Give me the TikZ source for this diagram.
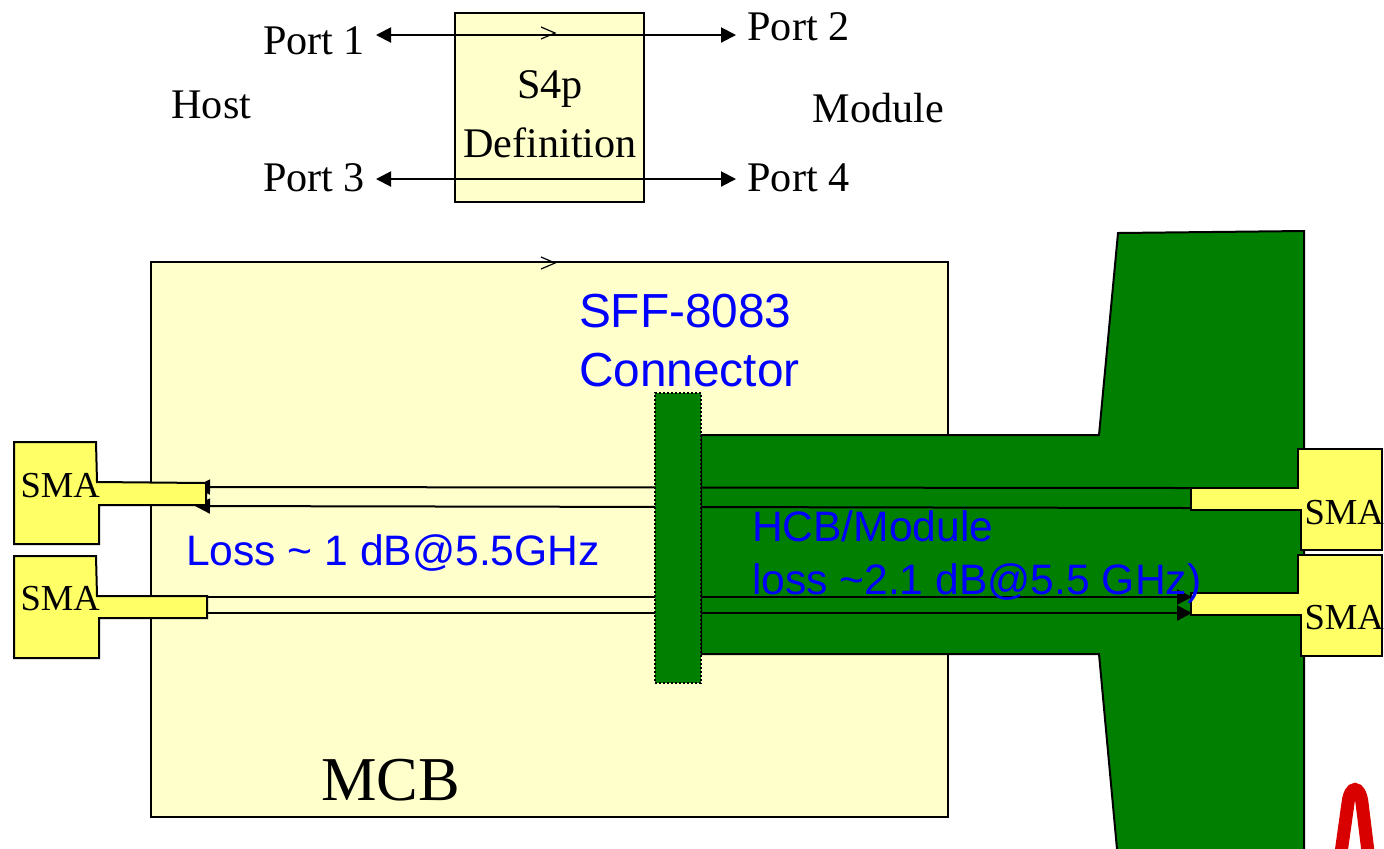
\documentclass[tikz,border=0pt]{standalone}
\usepackage{fontspec}
\setmainfont{Liberation Serif}
\setsansfont{Liberation Sans}
\usetikzlibrary{arrows.meta, positioning}
\definecolor{boardgreen}{HTML}{007F00}
\definecolor{palebox}{HTML}{FFFFCC}
\definecolor{smayellow}{HTML}{FFFF66}
\definecolor{logored}{HTML}{D90000}

\begin{document}
\begin{tikzpicture}[x=0.5pt, y=-0.5pt, line width=1pt, line join=miter,
  pale/.style={draw, fill=palebox, inner sep=0pt},
  board/.style={draw, fill=boardgreen},
  sma/.style={draw, fill=smayellow},
  portlbl/.style={anchor=base west, inner sep=0pt, font=\fontsize{21.1}{24}\selectfont},
  smalbl/.style={anchor=base west, inner sep=0pt, font=\fontsize{18.3}{22}\selectfont},
  bluelbl/.style={anchor=base west, inner sep=0pt, align=left, text=blue, font=\sffamily\fontsize{21.3}{26.5}\selectfont},
  biarrow/.style={{Triangle[length=7.5pt, width=7.5pt]}-{Triangle[length=7.5pt, width=7.5pt]}},
  arrow/.style={-{Triangle[length=7.5pt, width=7.5pt]}}]

  \useasboundingbox (0,0) rectangle (1384,848);
  \clip (0,0) rectangle (1384,848);

  % s4p sketch
  \node[pale, minimum width=94.5pt, minimum height=94.5pt] (s4p) at (549.5,107.5) {};
  \node[portlbl] (port1) at (262,54) {Port 1};
  \node[portlbl] (port2) at (746.5,40) {Port 2};
  \node[portlbl] (port3) at (262,191) {Port 3};
  \node[portlbl] (port4) at (746.5,191) {Port 4};
  \node[portlbl] (host) at (170.5,118) {Host};
  \node[portlbl] (module) at (811.5,122) {Module};
  \node[anchor=base, inner sep=0pt, font=\fontsize{21.1}{24}\selectfont] (s4plbl) at (550,98) {S4p};
  \node[anchor=base, inner sep=0pt, font=\fontsize{21.1}{24}\selectfont] (deflbl) at (550,157) {Definition};
  \coordinate (t1) at (376,35);
  \coordinate (t2) at (736,35);
  \coordinate (t3) at (376,179);
  \coordinate (t4) at (736,179);
  \draw[biarrow] (t1) -- (t2);
  \draw[biarrow] (t3) -- (t4);
  \draw[line width=0.6pt] (541,27) -- (555,33) -- (541,39);

  % boards
  \node[pale, minimum width=398.5pt, minimum height=277.5pt] (mcb) at (549.5,539.5) {};
  \draw[line width=0.6pt] (541,257) -- (555,263) -- (541,269);
  \draw[board] (1118,233) -- (1304,231) -- (1304,860) -- (1118,860) -- (1099,654)
    -- (701,654) -- (701,435) -- (1099,435) -- cycle;

  % traces
  \coordinate (a1) at (195,487);
  \coordinate (a2) at (1191,488);
  \coordinate (b1) at (195,506);
  \coordinate (b2) at (1191,508);
  \coordinate (c1) at (207,597);
  \coordinate (c2) at (1192,597);
  \coordinate (d1) at (207,613);
  \coordinate (d2) at (1192,613);
  \draw[{Triangle[length=7.5pt, width=7.5pt]}-] (a1) -- (a2);
  \draw[{Triangle[length=7.5pt, width=7.5pt]}-] (b1) -- (b2);
  \draw[arrow] (c1) -- (c2);
  \draw[arrow] (d1) -- (d2);

  % sma launches
  \draw[sma] (14,442) -- (96,442) -- (97,482) -- (206,483) -- (206,505) -- (99,505) -- (99,544) -- (14,544) -- cycle;
  \draw[sma] (14,556) -- (96,556) -- (97,596) -- (207,596) -- (207,618) -- (99,618) -- (99,658) -- (14,658) -- cycle;
  \draw[sma] (1298,449) -- (1382,449) -- (1382,550) -- (1301,550) -- (1301,510) -- (1191,510) -- (1191,488) -- (1298,488) -- cycle;
  \draw[sma] (1298,555) -- (1382,555) -- (1382,656) -- (1301,656) -- (1301,615) -- (1191,615) -- (1191,593) -- (1298,593) -- cycle;
  \node[smalbl] (sma1) at (19.5,497) {SMA};
  \node[smalbl] (sma2) at (19.5,610) {SMA};
  \node[smalbl] (sma3) at (1303.5,524) {SMA};
  \node[smalbl] (sma4) at (1303.5,629) {SMA};

  % connector and labels
  \node[draw, densely dotted, fill=boardgreen, inner sep=0pt, minimum width=23pt, minimum height=145pt] (sff) at (678,538) {};
  \node[bluelbl, font=\sffamily\fontsize{23.9}{29.5}\selectfont] (sfflbl) at (578,327) {SFF-8083};
  \node[bluelbl, font=\sffamily\fontsize{23.9}{29.5}\selectfont] (connlbl) at (578,386) {Connector};
  \node[bluelbl] (losslbl) at (185,565) {Loss \textasciitilde{} 1 dB@5.5GHz};
  \node[bluelbl] (hcblbl) at (751,541) {HCB/Module};
  \node[bluelbl] (hcbloss) at (751,594) {loss \textasciitilde2.1 dB@5.5 GHz)};
  \node[anchor=base west, inner sep=0pt, font=\fontsize{31.2}{36}\selectfont] (mcblbl) at (320,800) {MCB};

  % logo fragment
  \draw[logored, line width=6.5pt] (1340,860) -- (1348,803) .. controls (1350,785) and (1360,785) .. (1362,803) -- (1369,860);
\end{tikzpicture}
\end{document}
